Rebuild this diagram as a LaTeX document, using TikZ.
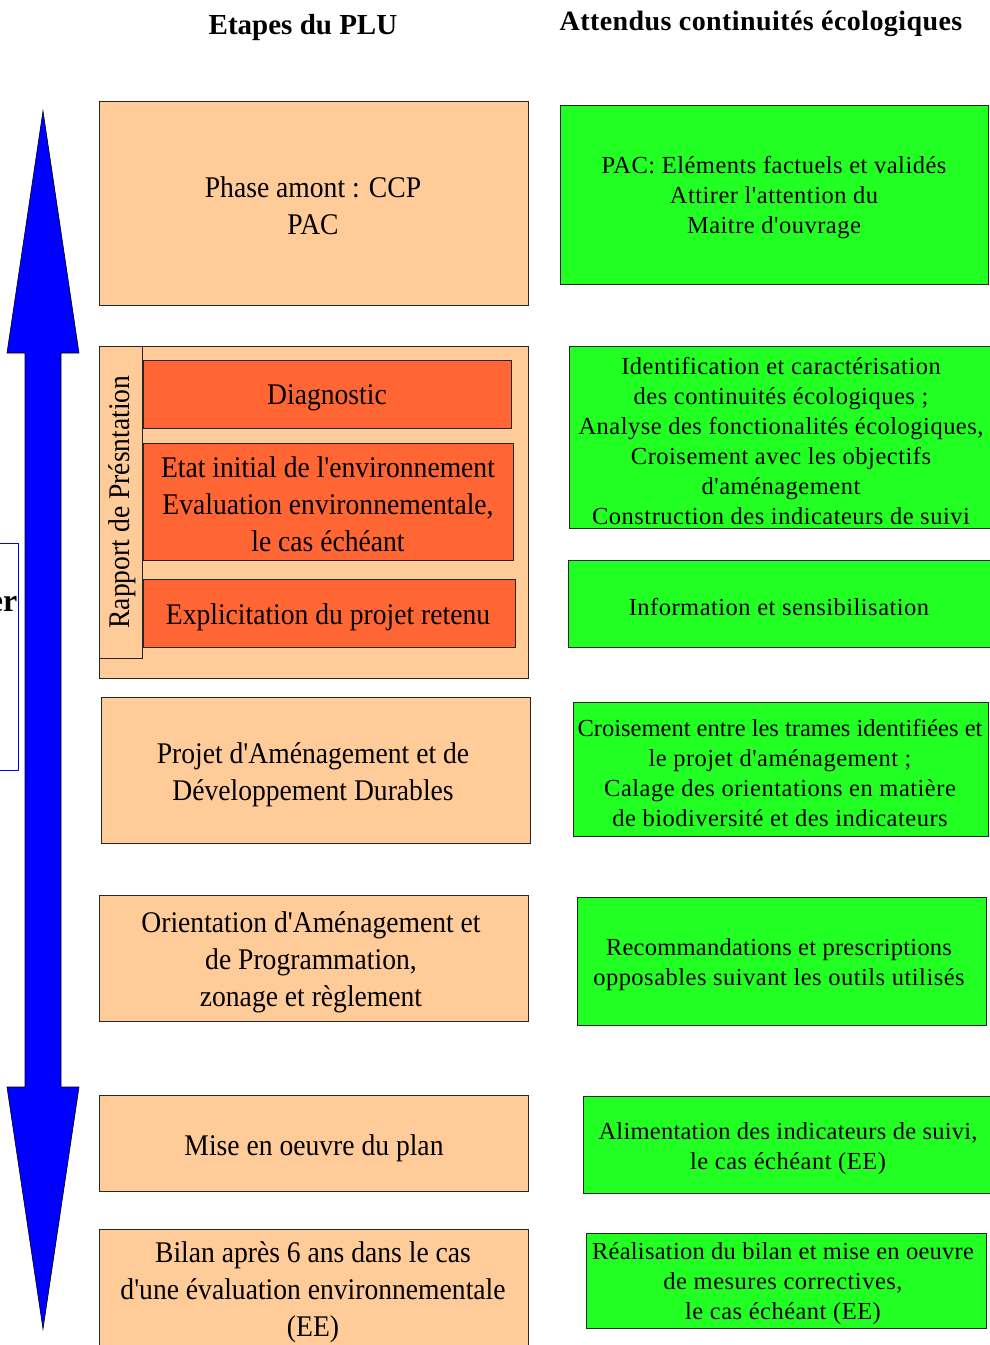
\documentclass[tikz,border=0pt]{standalone}
\usepackage{fontspec}
\setmainfont{Liberation Serif}
\newfontfamily\leftfont{Liberation Serif}[FakeStretch=0.92]
\newfontfamily\rightfont{Liberation Serif}[LetterSpace=2]
\newfontfamily\rightfonttight{Liberation Serif}[LetterSpace=0]
\newfontfamily\rightfontmid{Liberation Serif}[LetterSpace=1]
\newfontfamily\headfont{Liberation Serif}[LetterSpace=1.5]
\usetikzlibrary{fit}
\definecolor{peachc}{HTML}{FFCC99}
\definecolor{orangec}{HTML}{FF6633}
\definecolor{greenc}{HTML}{22FF22}
\definecolor{bluec}{HTML}{0000FF}
\tikzset{
  x=1pt,y=-1pt,
  basebox/.style={draw=black!85, line width=0.8pt, inner sep=0pt},
  peachbox/.style={basebox, fill=peachc},
  orangebox/.style={basebox, fill=orangec},
  greenbox/.style={basebox, fill=greenc},
  lefttext/.style={align=center, inner sep=0pt, font=\leftfont\fontsize{30}{37}\selectfont},
  righttext/.style={align=center, inner sep=0pt, font=\rightfont\fontsize{24.5}{30}\selectfont},
  header/.style={inner sep=0pt, font=\bfseries\fontsize{29}{32}\selectfont},
}
\begin{document}
\begin{tikzpicture}
\useasboundingbox (0,0) rectangle (990,1345);
\clip (0,0) rectangle (990,1345);

% headers
\node[header] (h1) at (303,28) {Etapes du PLU};
\node[header, font=\headfont\bfseries\fontsize{28}{32}\selectfont] (h2) at (761,24) {Attendus continuités écologiques};

% left blue framed box (cut off)
\node[draw=bluec, line width=0.8pt, fit={(-20,543) (18,770)}, inner sep=0pt] (bluebox) {};
\node[anchor=base east, inner sep=0pt, font=\bfseries\fontsize{32}{36}\selectfont] (er) at (17.5,611) {er};

% double arrow
\draw[fill=bluec, draw=black, line width=0.6pt]
  (43,111) -- (79,353) -- (61,353) -- (61,1087) -- (79,1087) -- (43,1329)
  -- (7,1087) -- (25,1087) -- (25,353) -- (7,353) -- cycle;

% left column
\node[peachbox, fit={(99,101) (528,305)}] (pac) {};
\node[lefttext] (pact) at (313,206) {Phase amont : CCP\\PAC};

\node[peachbox, fit={(99,346) (528,678)}] (rp) {};
\node[peachbox, fit={(99,346) (142,658)}] (rplab) {};
\node[lefttext, rotate=90] (rplabt) at (122,502) {Rapport de Présntation};
\node[orangebox, fit={(143,360) (511,428)}] (diag) {};
\node[lefttext] (diagt) at (327,398) {Diagnostic};
\node[orangebox, fit={(143,443) (513,560)}] (etat) {};
\node[lefttext] (etatt) at (328,504) {Etat initial de l'environnement\\Evaluation environnementale,\\le cas échéant};
\node[orangebox, fit={(143,579) (515,647)}] (expl) {};
\node[lefttext] (explt) at (328,617) {Explicitation du projet retenu};

\node[peachbox, fit={(101,697) (530,843)}] (padd) {};
\node[lefttext] (paddt) at (313,775) {Projet d'Aménagement et de\\Développement Durables};

\node[peachbox, fit={(99,895) (528,1021)}] (oap) {};
\node[lefttext] (oapt) at (311,962) {Orientation d'Aménagement et\\de Programmation,\\zonage et règlement};

\node[peachbox, fit={(99,1095) (528,1191)}] (mise) {};
\node[lefttext] (miset) at (314,1148) {Mise en oeuvre du plan};

\node[peachbox, fit={(99,1229) (528,1370)}] (bilan) {};
\node[lefttext] (bilant) at (313,1292) {Bilan après 6 ans dans le cas\\d'une évaluation environnementale\\(EE)};

% right column
\node[greenbox, fit={(560,105) (988,284)}] (g1) {};
\node[righttext] (g1t) at (774,198) {PAC: Eléments factuels et validés\\Attirer l'attention du\\Maitre d'ouvrage};
\node[greenbox, fit={(569,346) (992,528)}] (g2) {};
\node[righttext] (g2t) at (781,441) {Identification et caractérisation\\des continuités écologiques ;\\Analyse des fonctionalités écologiques,\\Croisement avec les objectifs\\d'aménagement\\Construction des indicateurs de suivi};
\node[greenbox, fit={(568,560) (991,647)}] (g3) {};
\node[righttext] (g3t) at (779,607) {Information et sensibilisation};
\node[greenbox, fit={(573,702) (988,836)}] (g4) {};
\node[righttext] (g4t) at (780,773) {{\rightfonttight Croisement entre les trames identifiées et}\\le projet d'aménagement ;\\Calage des orientations en matière\\de biodiversité et des indicateurs};
\node[greenbox, fit={(577,897) (986,1025)}] (g5) {};
\node[righttext] (g5t) at (779,965) {{\rightfontmid Recommandations et prescriptions}\\opposables suivant les outils utilisés};
\node[greenbox, fit={(583,1096) (992,1193)}] (g6) {};
\node[righttext] (g6t) at (788,1149) {{\rightfontmid Alimentation des indicateurs de suivi,}\\le cas échéant (EE)};
\node[greenbox, fit={(586,1233) (986,1328)}] (g7) {};
\node[righttext] (g7t) at (783,1284) {{\rightfontmid Réalisation du bilan et mise en oeuvre}\\de mesures correctives,\\le cas échéant (EE)};
\end{tikzpicture}
\end{document}
